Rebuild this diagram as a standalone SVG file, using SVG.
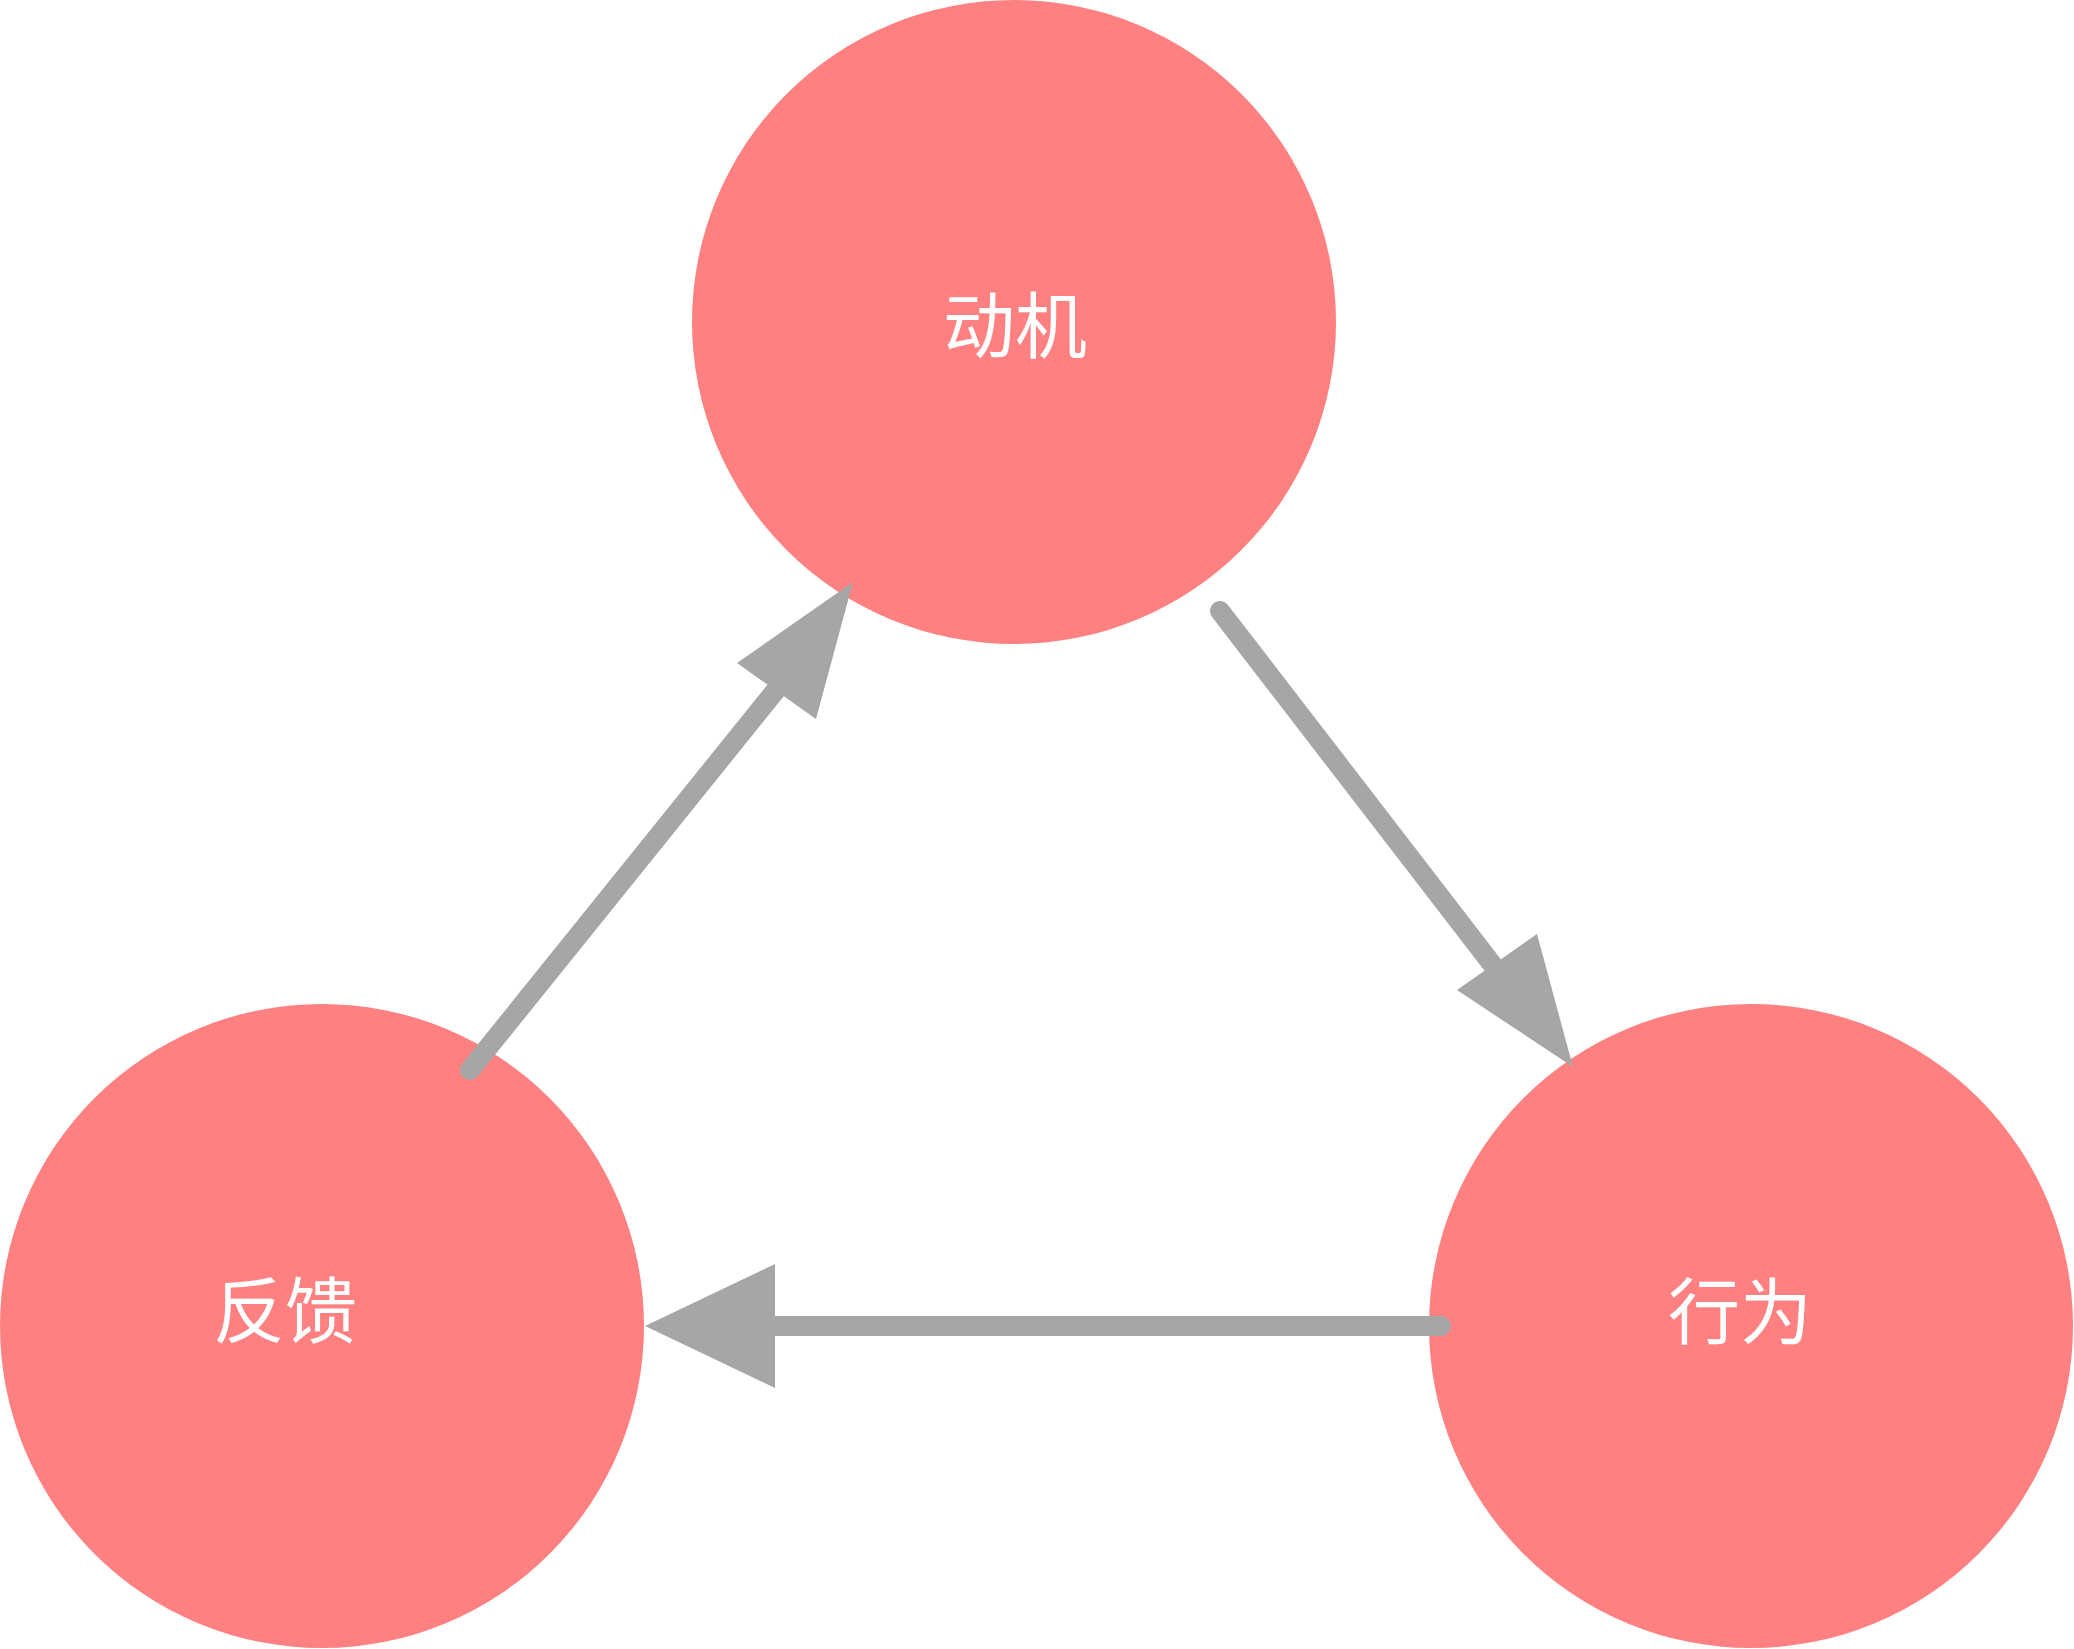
<svg xmlns="http://www.w3.org/2000/svg" width="2074" height="1649" viewBox="0 0 2074 1649">
<style>
.n{fill:#FF8080}
.t{fill:#fff;font-family:"Noto Sans CJK SC",sans-serif;font-size:72px;text-anchor:middle;dominant-baseline:central}
.l{stroke:#A6A6A6;stroke-width:20;stroke-linecap:round;fill:none}
.h{fill:#A6A6A6}
</style>
<rect width="2074" height="1649" fill="#fff"/>
<g id="n-motive"><circle class="n" cx="1014" cy="322" r="322"/><text class="t" x="1015" y="320">动机</text></g>
<g id="n-feedback"><circle class="n" cx="322" cy="1326" r="322"/><text class="t" x="285" y="1305">反馈</text></g>
<g id="n-action"><circle class="n" cx="1751" cy="1326" r="322"/><text class="t" x="1740" y="1306">行为</text></g>
<g id="connectors">
<line class="l" x1="470" y1="1070" x2="780" y2="685"/>
<polygon class="h" points="853,582 737,663 816,719"/>
<line class="l" x1="1220" y1="611" x2="1495" y2="968"/>
<polygon class="h" points="1573,1067 1457,990 1537,934"/>
<line class="l" x1="1441" y1="1326" x2="775" y2="1326"/>
<polygon class="h" points="645,1326 775,1264 775,1388"/>
</g>
</svg>
